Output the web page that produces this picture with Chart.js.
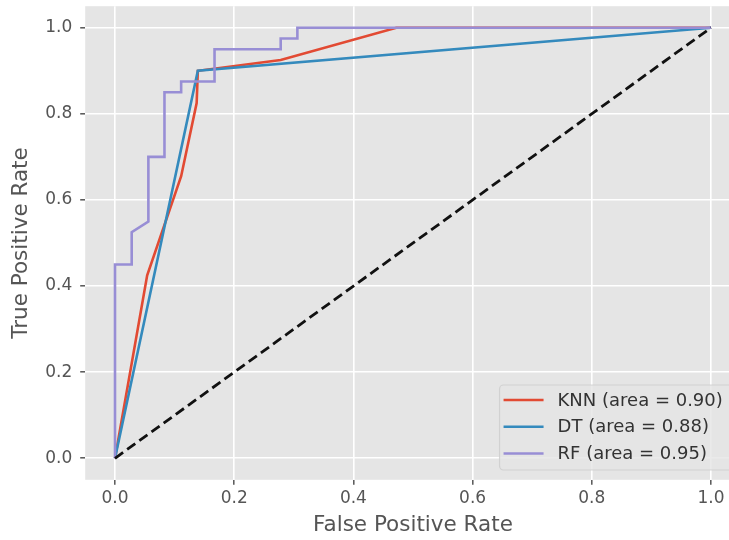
<!DOCTYPE html>
<html>
<head>
<meta charset="utf-8">
<script src="https://cdn.jsdelivr.net/npm/chart.js@4.4.0/dist/chart.umd.min.js"></script>
<style>
  html, body { margin: 0; padding: 0; background: #fff; overflow: hidden; }
  #wrap { width: 760px; height: 540px; }
</style>
</head>
<body>
<div id="wrap"><canvas id="roc" width="760" height="540"></canvas></div>
<script>
// ROC curves, ggplot look
const tickValues = [0, 0.2, 0.4, 0.6, 0.8, 1.0];
const tickLabels = ['0.0', '0.2', '0.4', '0.6', '0.8', '1.0'];

const knnFpr = [0, 0.054, 0.111, 0.137, 0.139, 0.278, 0.472, 1];
const knnTpr = [0, 0.425, 0.655, 0.825, 0.9, 0.925, 1, 1];

const dtFpr = [0, 0.139, 1];
const dtTpr = [0, 0.9, 1];

const rfFpr = [0, 0, 0.028, 0.028, 0.056, 0.056, 0.083, 0.083, 0.111, 0.111, 0.167, 0.167, 0.278, 0.278, 0.306, 0.306, 1];
const rfTpr = [0, 0.45, 0.45, 0.525, 0.55, 0.7, 0.7, 0.85, 0.85, 0.875, 0.875, 0.95, 0.95, 0.975, 0.975, 1, 1];

const chanceFpr = [0, 1];
const chanceTpr = [0, 1];

const seriesNames = ['KNN (area = 0.90)', 'DT (area = 0.88)', 'RF (area = 0.95)'];
const seriesColors = ['#E24A33', '#348ABD', '#988ED5'];

const FONT = '"DejaVu Sans", sans-serif';

function toPoints(xs, ys) {
    return xs.map((x, i) => ({ x: x, y: ys[i] }));
}

const panelBg = {
    id: 'panelBg',
    beforeDraw(chart) {
        const { ctx, chartArea: a } = chart;
        ctx.save();
        ctx.fillStyle = '#E5E5E5';
        ctx.fillRect(a.left, a.top, a.right - a.left, a.bottom - a.top);
        ctx.restore();
    }
};

// legend drawn inside the plot, lower right like matplotlib
const insideLegend = {
    id: 'insideLegend',
    afterDatasetsDraw(chart) {
        const { ctx, chartArea: a } = chart;
        ctx.save();
        ctx.font = '18px ' + FONT;
        const textW = Math.max(...seriesNames.map(t => ctx.measureText(t).width));
        const handle = 40, gap = 14, padL = 4, padR = 11;
        const rowH = 26.7;
        const w = padL + handle + gap + textW + padR;
        const h = 85;
        const right = a.right - 7;
        const bottom = a.bottom - 9.8;
        const left = right - w, top = bottom - h;

        ctx.globalAlpha = 0.8;
        ctx.fillStyle = '#E5E5E5';
        ctx.strokeStyle = '#CCCCCC';
        ctx.lineWidth = 1.2;
        ctx.beginPath();
        ctx.roundRect(left, top, w, h, 4);
        ctx.fill();
        ctx.stroke();
        ctx.globalAlpha = 1;

        seriesNames.forEach((name, i) => {
            const cy = top + 15 + i * rowH;
            ctx.strokeStyle = seriesColors[i];
            ctx.lineWidth = 2.5;
            ctx.beginPath();
            ctx.moveTo(left + padL, cy);
            ctx.lineTo(left + padL + handle, cy);
            ctx.stroke();
            ctx.fillStyle = '#333333';
            ctx.textBaseline = 'middle';
            ctx.textAlign = 'left';
            ctx.fillText(name, left + padL + handle + gap, cy + 1);
        });
        ctx.restore();
    }
};

function axisOpts(isX) {
    return {
        type: 'linear',
        min: -0.05,
        max: 1.05,
        afterBuildTicks: s => { s.ticks = tickValues.map(v => ({ value: v })); },
        afterFit: s => {
            if (isX) {
                s.height = 60.2;
                s.paddingLeft = 0;
                s.paddingRight = 0;
            } else {
                s.width = 85.2;
                s.paddingTop = 0;
                s.paddingBottom = 0;
            }
        },
        ticks: {
            callback: (v, i) => tickLabels[i],
            color: '#555555',
            font: { family: FONT, size: 17 },
            padding: isX ? 4 : 8,
            autoSkip: false,
            maxRotation: 0
        },
        grid: {
            color: '#FFFFFF',
            lineWidth: 1.6,
            tickColor: '#555555',
            tickLength: 5,
            tickWidth: 1.5
        },
        border: { display: false },
        title: {
            display: true,
            text: isX ? 'False Positive Rate' : 'True Positive Rate',
            color: '#555555',
            font: { family: FONT, size: 21.5 },
            padding: isX ? { top: 0, bottom: 1.3 } : { top: 9, bottom: 0 }
        }
    };
}

const lineDefaults = { showLine: true, fill: false, pointRadius: 0, pointHoverRadius: 0, borderWidth: 2.6, tension: 0 };

new Chart(document.getElementById('roc').getContext('2d'), {
    type: 'scatter',
    data: {
        datasets: [
            Object.assign({}, lineDefaults, { label: seriesNames[0], data: toPoints(knnFpr, knnTpr), borderColor: seriesColors[0], order: 3 }),
            Object.assign({}, lineDefaults, { label: seriesNames[1], data: toPoints(dtFpr, dtTpr), borderColor: seriesColors[1], order: 2 }),
            Object.assign({}, lineDefaults, { label: seriesNames[2], data: toPoints(rfFpr, rfTpr), borderColor: seriesColors[2], order: 1 }),
            Object.assign({}, lineDefaults, { label: 'chance', data: toPoints(chanceFpr, chanceTpr), borderColor: '#111111', borderDash: [10, 5], borderWidth: 2.8, order: 0 })
        ]
    },
    options: {
        responsive: false,
        animation: false,
        events: [],
        layout: { padding: { left: 0, right: 19.2, top: 6.2, bottom: 0 } },
        plugins: {
            legend: { display: false },
            tooltip: { enabled: false }
        },
        scales: {
            x: axisOpts(true),
            y: axisOpts(false)
        }
    },
    plugins: [panelBg, insideLegend]
});
</script>
</body>
</html>
